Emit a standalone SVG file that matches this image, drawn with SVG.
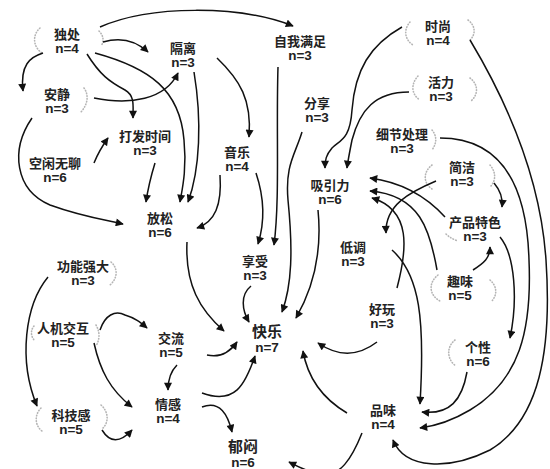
<svg xmlns="http://www.w3.org/2000/svg" width="550" height="469" viewBox="0 0 550 469">
<defs>
<marker id="ah" viewBox="0 0 10 10" refX="9" refY="5" markerWidth="9" markerHeight="8" markerUnits="userSpaceOnUse" orient="auto">
<path d="M0,0 L10,5 L0,10 z" fill="#111"/>
</marker>
<style>
.lbl{font-family:"Liberation Sans","Noto Sans CJK SC",sans-serif;font-size:13px;font-weight:bold;fill:#222;text-anchor:middle}
.n{font-size:13.5px}
.big{font-size:15px}
.e{fill:none;stroke:#111;stroke-width:1.5;marker-end:url(#ah)}
.c{fill:none;stroke:#b5b5b5;stroke-width:1.6;stroke-dasharray:0.6 2.2;stroke-linecap:round}
</style>
</defs>
<rect width="550" height="469" fill="#fff"/>

<g id="specks">
<path class="c" d="M40,28 C32,35 33,47 42,53"/>
<path class="c" d="M99,31 C104,36 104,42 101,46"/>
<path class="c" d="M84,88 C89,95 88,104 81,112"/>
<path class="c" d="M410,22 C403,30 405,40 413,45"/>
<path class="c" d="M468,20 C476,26 476,35 469,41"/>
<path class="c" d="M418,76 C410,85 412,95 420,100"/>
<path class="c" d="M470,78 C479,85 478,95 471,101"/>
<path class="c" d="M432,165 C423,172 423,183 432,189"/>
<path class="c" d="M490,165 C496,172 496,180 491,186"/>
<path class="c" d="M432,130 C437,136 437,143 432,150"/>
<path class="c" d="M446,234 C450,238 455,240 458,241"/>
<path class="c" d="M438,275 C428,283 429,295 440,301"/>
<path class="c" d="M490,280 C498,287 497,296 491,302"/>
<path class="c" d="M455,340 C446,347 447,360 456,366"/>
<path class="c" d="M41,408 C34,415 35,426 42,431"/>
<path class="c" d="M101,405 C109,412 109,423 102,429"/>
<path class="c" d="M111,262 C118,268 118,278 110,285"/>
<path class="c" d="M34,326 C30,331 31,337 35,341"/>
<path class="c" d="M96,325 C100,332 100,339 96,346"/>
</g>

<g id="connectors">
<path class="e" d="M100,27 C150,5 240,5 293,26"/>
<path class="e" d="M103,42 C120,37 135,40 148,52"/>
<path class="e" d="M43,53 C30,57 20,65 23,91"/>
<path class="e" d="M87,54 C100,75 110,82 125,90 C135,96 133,105 133,118"/>
<path class="e" d="M95,53 C150,68 180,90 184,140 C187,170 182,190 180,202"/>
<path class="e" d="M194,72 C202,120 200,170 188,202"/>
<path class="e" d="M94,98 C130,105 165,100 178,73"/>
<path class="e" d="M32,118 C10,150 15,190 50,205 C80,216 105,220 123,224"/>
<path class="e" d="M94,163 C98,153 103,145 108,138"/>
<path class="e" d="M155,163 C151,176 148,188 146,202"/>
<path class="e" d="M217,58 C240,80 252,100 249,137"/>
<path class="e" d="M220,175 C222,205 215,222 197,228"/>
<path class="e" d="M256,173 C265,200 264,225 258,244"/>
<path class="e" d="M278,67 C276,130 280,200 274,245"/>
<path class="e" d="M302,132 C295,155 285,165 288,200 C293,250 292,285 282,312"/>
<path class="e" d="M318,210 C322,250 315,285 296,318"/>
<path class="e" d="M187,242 C185,285 200,310 224,331"/>
<path class="e" d="M251,286 C240,295 242,310 249,322"/>
<path class="e" d="M402,27 C370,45 355,70 352,110 C350,140 340,140 332,148 C326,155 325,160 325,168"/>
<path class="e" d="M409,92 C375,92 360,110 352,140 C350,150 348,160 347,168"/>
<path class="e" d="M470,40 C500,90 540,170 546,260 C552,350 540,420 490,450 C450,470 405,470 393,440"/>
<path class="e" d="M440,138 C505,138 527,190 529,260 C532,330 520,380 470,410 C450,422 435,426 420,428"/>
<path class="e" d="M436,181 C410,192 385,205 386,233"/>
<path class="e" d="M494,183 C500,190 503,198 502,207"/>
<path class="e" d="M445,217 C425,195 400,182 370,178"/>
<path class="e" d="M437,270 C430,230 420,195 370,191"/>
<path class="e" d="M397,288 C407,250 412,210 372,198"/>
<path class="e" d="M392,250 C420,275 425,320 420,404"/>
<path class="e" d="M473,270 C484,263 490,258 490,247"/>
<path class="e" d="M500,237 C515,255 518,300 510,338"/>
<path class="e" d="M467,372 C462,400 450,415 422,412"/>
<path class="e" d="M377,342 C360,355 340,358 318,343"/>
<path class="e" d="M347,413 C325,400 308,380 303,351"/>
<path class="e" d="M362,433 C352,458 340,478 320,474 C305,471 297,466 289,462"/>
<path class="e" d="M48,277 C25,305 18,360 37,406"/>
<path class="e" d="M100,330 C105,315 115,310 125,315 C135,318 140,322 147,328"/>
<path class="e" d="M94,343 C100,370 110,390 132,407"/>
<path class="e" d="M102,430 C110,443 120,443 132,430"/>
<path class="e" d="M207,355 C220,358 230,352 237,342"/>
<path class="e" d="M177,365 C170,372 168,380 168,390"/>
<path class="e" d="M202,393 C235,405 245,385 255,356"/>
<path class="e" d="M202,407 C220,400 228,415 232,432"/>
</g>

<g id="n-duchu"><text class="lbl" x="67" y="39">独处</text><text class="lbl n" x="67" y="53">n=4</text></g>
<g id="n-geli"><text class="lbl" x="183" y="53">隔离</text><text class="lbl n" x="183" y="67">n=3</text></g>
<g id="n-ziwomanzu"><text class="lbl" x="300" y="46">自我满足</text><text class="lbl n" x="300" y="60">n=3</text></g>
<g id="n-shishang"><text class="lbl" x="438" y="31">时尚</text><text class="lbl n" x="438" y="45">n=4</text></g>
<g id="n-anjing"><text class="lbl" x="57" y="99">安静</text><text class="lbl n" x="57" y="113">n=3</text></g>
<g id="n-huoli"><text class="lbl" x="441" y="87">活力</text><text class="lbl n" x="441" y="101">n=3</text></g>
<g id="n-dafashijian"><text class="lbl" x="145" y="141">打发时间</text><text class="lbl n" x="145" y="155">n=3</text></g>
<g id="n-fenxiang"><text class="lbl" x="317" y="108">分享</text><text class="lbl n" x="317" y="122">n=3</text></g>
<g id="n-kongxian"><text class="lbl" x="55" y="168">空闲无聊</text><text class="lbl n" x="55" y="182">n=6</text></g>
<g id="n-yinyue"><text class="lbl" x="237" y="157">音乐</text><text class="lbl n" x="237" y="171">n=4</text></g>
<g id="n-xijie"><text class="lbl" x="402" y="139">细节处理</text><text class="lbl n" x="402" y="153">n=3</text></g>
<g id="n-jianjie"><text class="lbl" x="462" y="172">简洁</text><text class="lbl n" x="462" y="186">n=3</text></g>
<g id="n-xiyinli"><text class="lbl" x="330" y="190">吸引力</text><text class="lbl n" x="330" y="204">n=6</text></g>
<g id="n-fangsong"><text class="lbl" x="160" y="223">放松</text><text class="lbl n" x="160" y="237">n=6</text></g>
<g id="n-chanpin"><text class="lbl" x="475" y="227">产品特色</text><text class="lbl n" x="475" y="241">n=3</text></g>
<g id="n-didiao"><text class="lbl" x="353" y="252">低调</text><text class="lbl n" x="353" y="266">n=3</text></g>
<g id="n-xiangshou"><text class="lbl" x="255" y="266">享受</text><text class="lbl n" x="255" y="280">n=3</text></g>
<g id="n-gongneng"><text class="lbl" x="83" y="271">功能强大</text><text class="lbl n" x="83" y="285">n=3</text></g>
<g id="n-quwei"><text class="lbl" x="460" y="286">趣味</text><text class="lbl n" x="460" y="300">n=5</text></g>
<g id="n-haowan"><text class="lbl" x="382" y="314">好玩</text><text class="lbl n" x="382" y="328">n=3</text></g>
<g id="n-renji"><text class="lbl" x="63" y="333">人机交互</text><text class="lbl n" x="63" y="347">n=5</text></g>
<g id="n-kuaile"><text class="lbl big" x="267" y="337">快乐</text><text class="lbl n" x="267" y="352">n=7</text></g>
<g id="n-jiaoliu"><text class="lbl" x="171" y="343">交流</text><text class="lbl n" x="171" y="357">n=5</text></g>
<g id="n-gexing"><text class="lbl" x="478" y="352">个性</text><text class="lbl n" x="478" y="366">n=6</text></g>
<g id="n-qinggan"><text class="lbl" x="168" y="409">情感</text><text class="lbl n" x="168" y="423">n=4</text></g>
<g id="n-kejigan"><text class="lbl" x="71" y="420">科技感</text><text class="lbl n" x="71" y="434">n=5</text></g>
<g id="n-pinwei"><text class="lbl" x="383" y="415">品味</text><text class="lbl n" x="383" y="429">n=4</text></g>
<g id="n-yumen"><text class="lbl big" x="243" y="452">郁闷</text><text class="lbl n" x="243" y="467">n=6</text></g>
</svg>
